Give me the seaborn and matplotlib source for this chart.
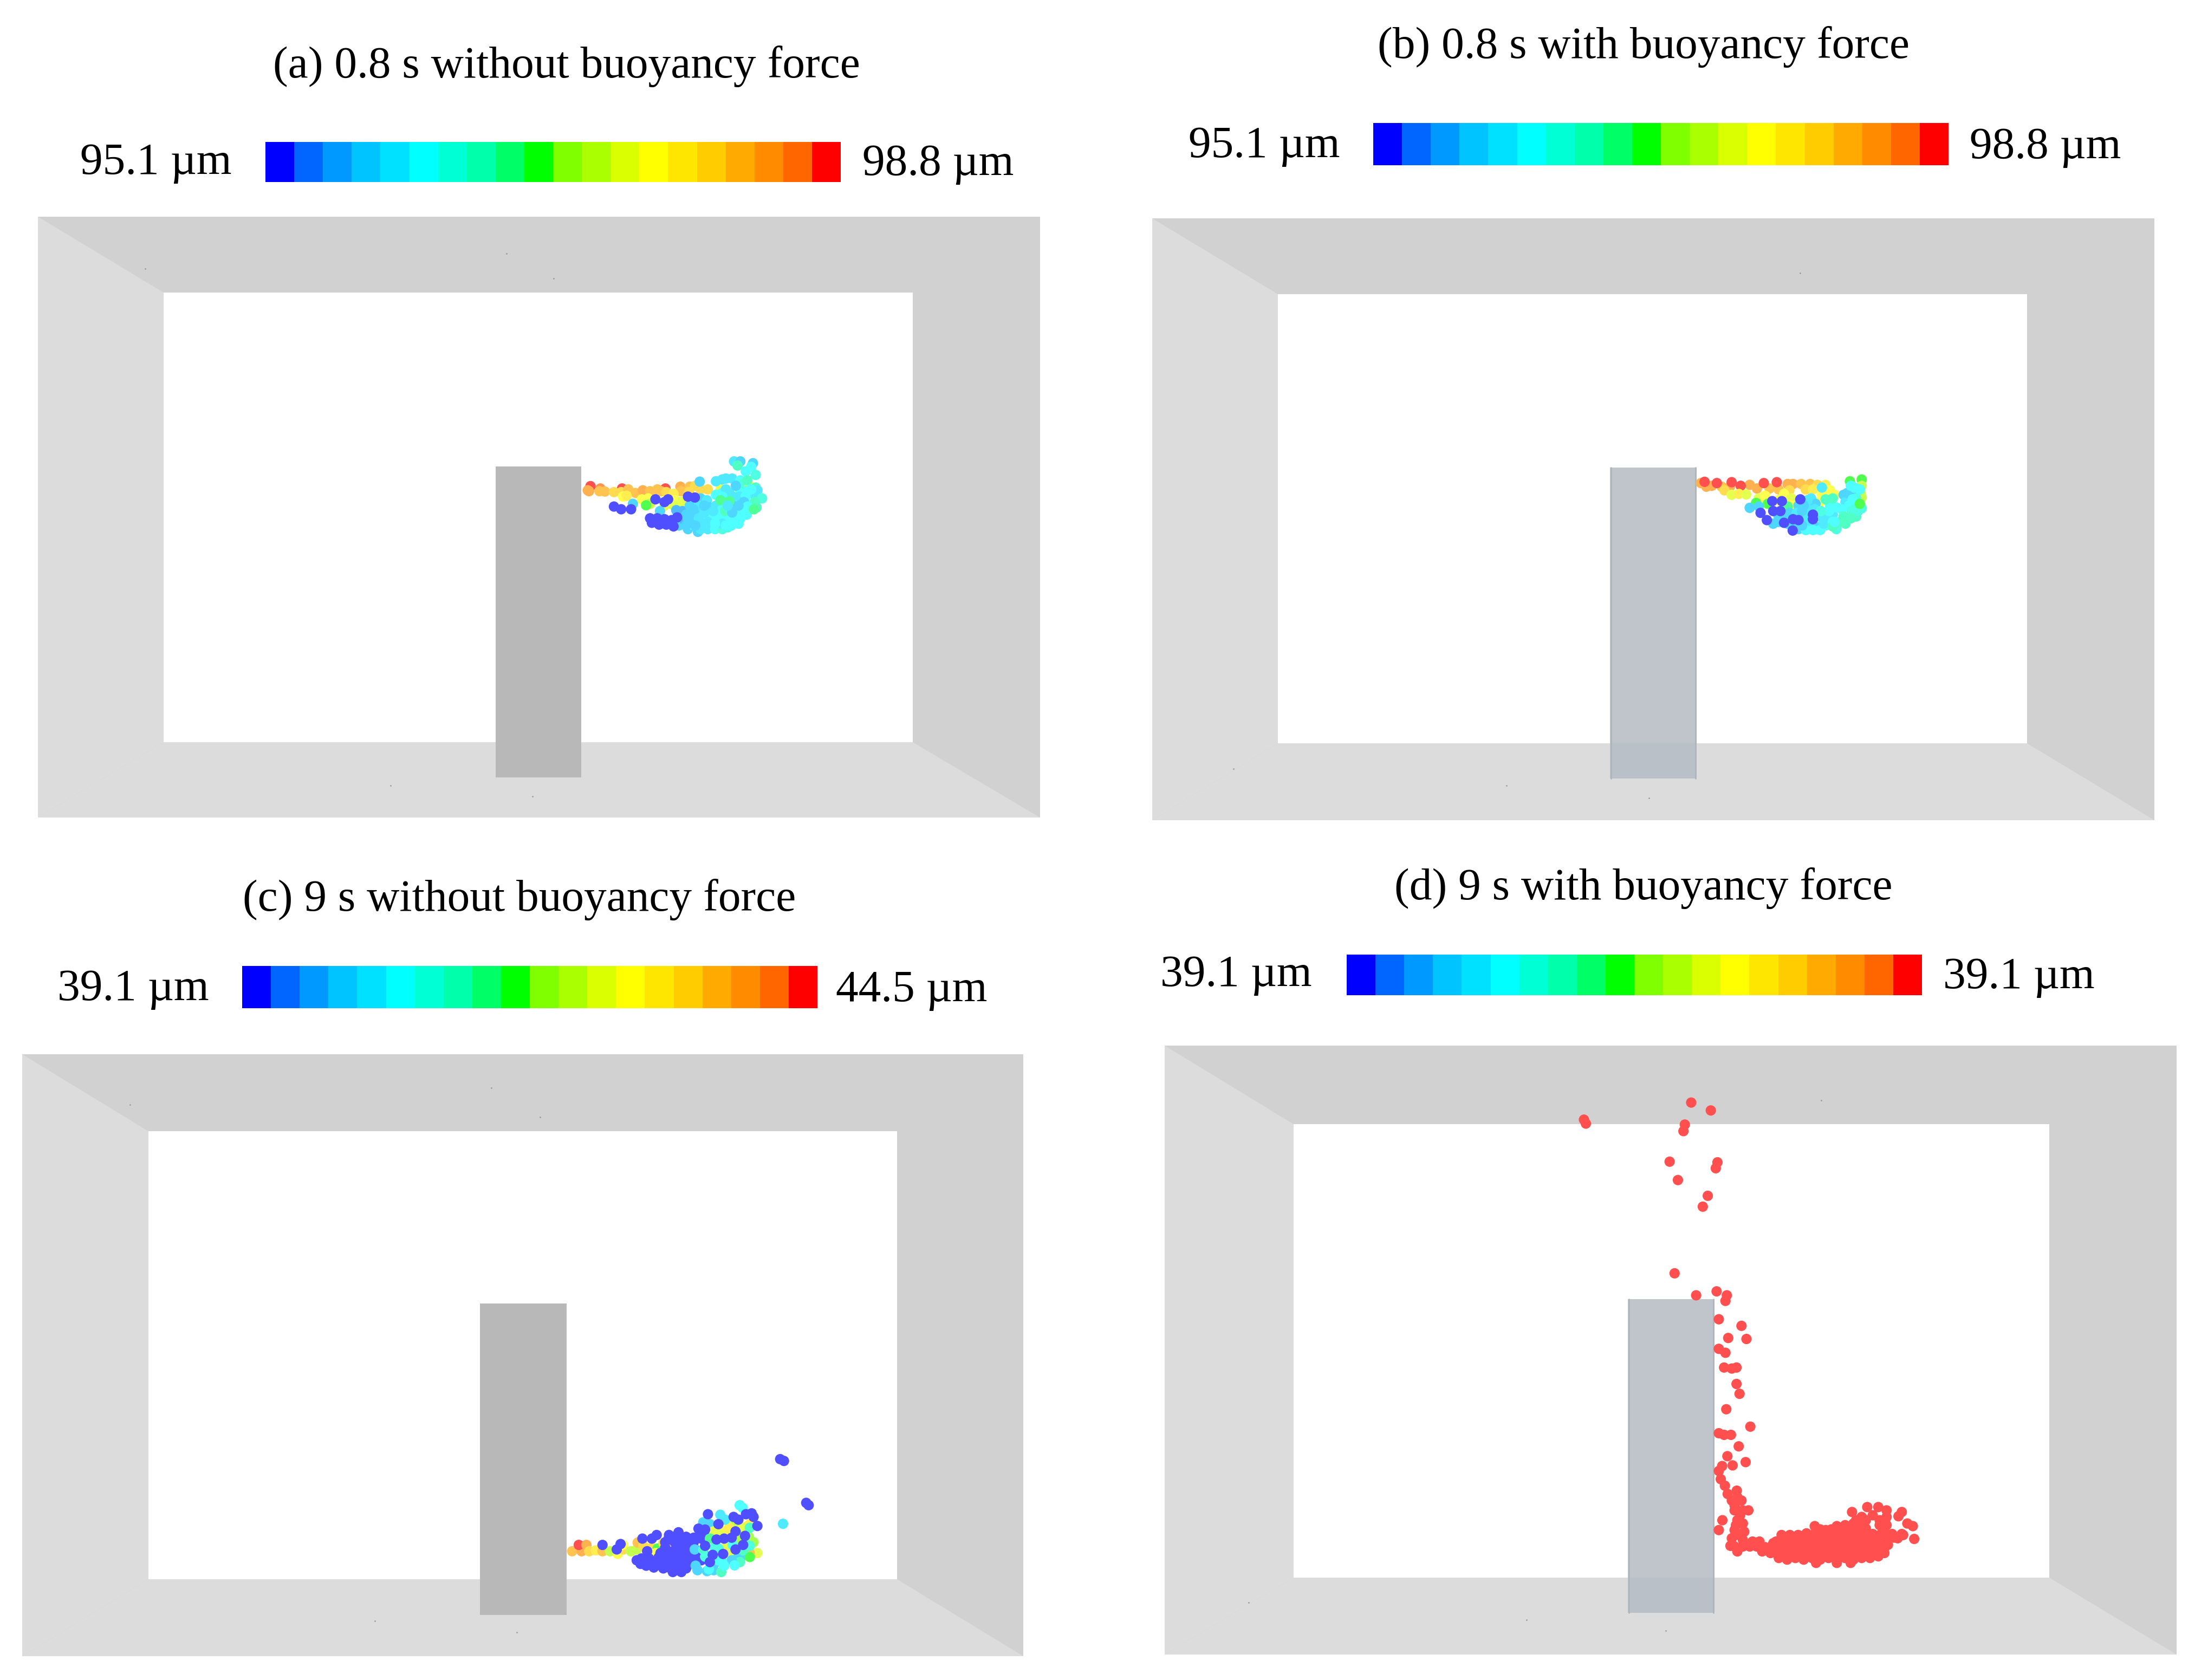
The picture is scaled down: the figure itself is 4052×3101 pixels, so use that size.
# Particle dispersion around a column, with and without buoyancy force
import pandas as pd
import seaborn as sns
import matplotlib.pyplot as plt

sns.set_theme(style="white")
plt.rcParams['font.family'] = ['Liberation Serif', 'DejaVu Sans']

# colour bar cells, low to high
bar_colors = ['#0000ff', '#0066ff', '#0099ff', '#00c4ff', '#00e1ff', '#00ffff', '#00ffd5', '#00ffaa',
              '#00ff66', '#00ff00', '#80ff00', '#aaff00', '#d9ff00', '#ffff00', '#ffe600', '#ffcc00',
              '#ffaa00', '#ff8c00', '#ff6600', '#ff0000']
bar_levels = list(range(20))

titles = ['(a) 0.8 s without buoyancy force', '(b) 0.8 s with buoyancy force',
          '(c) 9 s without buoyancy force', '(d) 9 s with buoyancy force']
low_labels = ['95.1 µm', '95.1 µm', '39.1 µm', '39.1 µm']
high_labels = ['98.8 µm', '98.8 µm', '44.5 µm', '39.1 µm']

particles_a = [
    (270, 292, 19), (325, 305, 18), (445, 305, 19), (685, 305, 19), (768, 295, 17), (255, 315, 17), (262, 320, 17),
    (320, 320, 16), (350, 322, 16), (400, 325, 15), (440, 325, 15), (480, 310, 16), (520, 330, 16), (560, 315, 17),
    (600, 320, 16), (640, 310, 16), (660, 320, 16), (690, 325, 15), (770, 320, 16), (820, 295, 16), (850, 290, 15),
    (880, 310, 15), (920, 310, 15), (815, 325, 15), (450, 350, 13), (470, 345, 14), (730, 335, 14), (555, 365, 13),
    (590, 360, 13), (600, 390, 11), (740, 370, 13), (770, 380, 12), (725, 395, 12), (680, 400, 12), (990, 310, 12),
    (1070, 325, 13), (1150, 290, 12), (578, 398, 9), (505, 390, 3), (655, 430, 3), (875, 267, 3), (745, 425, 2),
    (780, 430, 2), (760, 510, 3), (810, 530, 3), (790, 480, 2), (810, 470, 3), (850, 440, 3), (865, 545, 3),
    (820, 400, 3), (880, 360, 3), (915, 370, 4), (870, 400, 4), (930, 410, 3), (965, 400, 4), (890, 500, 4),
    (880, 530, 4), (920, 530, 4), (960, 530, 5), (1000, 530, 6), (1030, 520, 6), (830, 505, 5), (925, 450, 5),
    (975, 450, 5), (1010, 470, 5), (1060, 490, 5), (1100, 470, 5), (1135, 450, 5), (1000, 500, 4), (1050, 510, 5),
    (800, 450, 3), (840, 480, 3), (870, 470, 4), (840, 420, 3), (900, 440, 4), (950, 490, 5), (1000, 420, 5),
    (950, 430, 4), (900, 400, 3), (1040, 440, 5), (1070, 450, 5), (1060, 400, 3), (1130, 380, 5), (1060, 350, 4),
    (1040, 330, 4), (1000, 330, 5), (1130, 320, 5), (1100, 320, 5), (920, 490, 4), (850, 510, 3), (800, 510, 3),
    (960, 500, 5), (1090, 500, 5), (1020, 510, 5), (1180, 340, 4),
    (1065, 155, 4), (1100, 155, 3), (1085, 178, 7), (1170, 165, 3), (1160, 185, 5), (1130, 210, 5), (1185, 230, 6),
    (965, 265, 4), (1000, 255, 4), (1020, 250, 4), (1055, 250, 4), (1100, 260, 5), (1095, 285, 6), (1138, 260, 7),
    (1020, 310, 4), (1075, 290, 3), (1185, 300, 7), (1195, 315, 4), (1160, 310, 5), (965, 340, 5), (1000, 350, 5),
    (1095, 350, 4), (1130, 345, 5), (1220, 360, 6), (1180, 380, 7), (1040, 375, 8), (990, 370, 8), (1120, 380, 3),
    (1140, 405, 5), (1095, 430, 5), (1190, 410, 7), (1175, 420, 8), (1015, 430, 7), (1055, 438, 3), (1030, 400, 4),
    (1090, 400, 3), (400, 405, 0), (440, 420, 0), (495, 420, 0), (630, 365, 0), (680, 380, 0), (700, 365, 0),
    (810, 350, 0), (848, 355, 0), (600, 470, 0), (640, 470, 0), (680, 475, 0), (720, 480, 0), (610, 495, 0),
    (650, 505, 0), (690, 505, 0), (730, 515, 0), (750, 465, 0),
]
particles_b = [
    (270, 125, 17), (300, 145, 17), (330, 140, 17), (385, 145, 16), (430, 145, 17), (540, 135, 17), (580, 155, 17),
    (650, 155, 16), (700, 160, 16), (750, 130, 17), (780, 130, 17), (825, 130, 16), (875, 130, 16), (915, 135, 15),
    (760, 165, 15), (850, 160, 15), (890, 160, 14), (960, 135, 14), (290, 118, 19), (358, 125, 19), (440, 120, 19),
    (490, 140, 19), (618, 125, 19), (690, 120, 19), (400, 165, 15), (440, 190, 12), (480, 185, 14), (520, 188, 12),
    (590, 210, 12), (625, 195, 13), (730, 185, 13), (770, 210, 12), (700, 220, 13), (985, 165, 13), (940, 190, 13),
    (1010, 190, 13), (770, 250, 13), (930, 230, 13), (575, 235, 9), (640, 240, 9), (750, 255, 8), (1095, 115, 9),
    (1160, 105, 9), (1160, 140, 11), (1155, 180, 11), (1160, 205, 11), (540, 262, 3), (590, 255, 3), (700, 340, 3),
    (670, 350, 3), (810, 250, 3), (760, 290, 3), (940, 150, 4), (750, 350, 3), (810, 380, 3), (750, 300, 3),
    (800, 290, 4), (860, 260, 4), (880, 210, 4), (905, 240, 3), (850, 310, 4), (870, 360, 4), (920, 370, 3),
    (920, 310, 4), (1060, 190, 3), (1120, 185, 3), (1000, 300, 4), (985, 250, 5), (1070, 230, 4), (960, 360, 5),
    (850, 385, 5), (930, 385, 5), (830, 340, 4), (790, 350, 3), (830, 280, 3), (860, 220, 4), (900, 270, 4),
    (960, 320, 4), (1020, 260, 5), (1050, 270, 5), (1090, 250, 5), (1130, 240, 6), (1080, 180, 3), (1130, 210, 6),
    (1130, 310, 7), (1070, 350, 7), (1020, 380, 6), (880, 330, 4), (950, 350, 4), (980, 280, 5), (830, 360, 3),
    (890, 385, 5), (840, 250, 3), (780, 360, 3), (700, 310, 3), (1100, 140, 5), (1000, 340, 5), (1160, 265, 6),
    (1000, 210, 7), (960, 215, 7), (935, 280, 6), (1110, 215, 5), (1105, 280, 6),
    (1060, 310, 7), (1100, 320, 7), (1120, 150, 5), (1140, 280, 6), (1040, 340, 7), (1000, 365, 7), (1010, 340, 5),
    (1150, 160, 5), (1150, 240, 9), (665, 225, 0), (718, 225, 0), (820, 215, 0), (600, 290, 0), (670, 280, 0),
    (710, 280, 0), (635, 330, 0), (730, 345, 0), (780, 325, 0), (810, 330, 0), (890, 300, 0), (890, 325, 0),
    (778, 388, 0),
]
particles_c = [
    (160, 640, 16), (210, 640, 17), (195, 605, 19), (235, 605, 17), (250, 640, 15), (285, 635, 14), (320, 640, 16),
    (360, 640, 11), (400, 655, 13), (430, 630, 15), (428, 605, 13), (470, 640, 11), (500, 630, 11), (505, 592, 16),
    (535, 610, 15), (580, 620, 15), (610, 625, 9), (600, 650, 13), (665, 585, 17), (640, 595, 15), (320, 605, 0),
    (395, 630, 0), (415, 600, 0), (530, 570, 0), (580, 570, 0), (605, 550, 0), (555, 640, 0), (670, 550, 0),
    (720, 535, 0), (760, 560, 0), (800, 565, 0), (650, 620, 0), (700, 590, 0), (750, 600, 0), (800, 590, 0),
    (840, 570, 0), (640, 650, 0), (690, 640, 0), (740, 640, 0), (790, 650, 0), (830, 670, 0), (500, 690, 0),
    (540, 700, 0), (590, 700, 0), (640, 700, 0), (690, 690, 0), (740, 700, 0), (790, 680, 0), (840, 690, 0),
    (550, 720, 0), (620, 715, 0), (670, 730, 0), (710, 745, 0), (760, 735, 0), (665, 575, 0), (715, 565, 0),
    (775, 575, 0), (625, 650, 0), (665, 660, 0), (715, 665, 0), (765, 665, 0), (815, 635, 0), (845, 640, 0),
    (525, 680, 0), (565, 680, 0), (615, 675, 0), (665, 675, 0), (715, 720, 0), (765, 700, 0), (810, 700, 0),
    (590, 730, 0), (640, 735, 0), (690, 755, 0), (735, 755, 0), (520, 710, 0), (650, 590, 0), (725, 620, 0),
    (775, 620, 0), (830, 550, 0), (870, 545, 0), (850, 650, 0), (875, 680, 0), (920, 640, 0),
    (805, 630, 3), (810, 720, 3), (820, 745, 3), (870, 750, 3), (905, 745, 3), (912, 705, 3),
    (850, 480, 3), (885, 490, 3), (945, 755, 7), (880, 740, 5), (1040, 530, 10), (1090, 560, 10), (1000, 650, 12),
    (1075, 600, 5), (990, 480, 11), (960, 530, 14), (910, 620, 6), (850, 630, 7), (860, 670, 6), (930, 690, 5),
    (1050, 670, 3), (1030, 680, 3), (1000, 470, 11), (1025, 500, 11), (985, 510, 14),
    (1060, 505, 12), (1095, 490, 14), (905, 530, 12), (935, 540, 12), (975, 610, 12), (1115, 590, 10),
    (1135, 650, 12), (1095, 650, 16), (1095, 672, 9), (1045, 580, 10), (885, 570, 8), (940, 438, 4), (965, 465, 4),
    (1042, 385, 5), (1058, 400, 5), (1095, 510, 7), (1095, 610, 6), (1005, 605, 5), (1060, 635, 7), (930, 625, 6),
    (1043, 700, 7), (1000, 690, 3), (950, 700, 5), (960, 720, 5), (1015, 718, 5), (875, 435, 0), (825, 515, 0),
    (860, 520, 0), (930, 490, 0), (1010, 450, 0), (1035, 465, 0), (1075, 435, 0), (1105, 430, 0), (1115, 450, 0),
    (1135, 500, 0), (1070, 555, 0), (920, 575, 0), (960, 570, 0), (1000, 565, 0), (1020, 530, 0), (860, 610, 0),
    (1020, 630, 0), (900, 660, 0), (955, 655, 0), (1060, 605, 0), (885, 700, 0), (1255, 130, 0), (1275, 140, 0),
    (1392, 372, 0), (1405, 385, 0), (1270, 488, 4),
]
# every particle in (d) sits in the one top cell, so x and y are enough
particles_d = [
    (145, 110), (152, 122), (533, 58), (604, 82), (510, 125), (505, 145), (455, 238), (628, 240), (622, 258),
    (485, 294), (593, 342), (575, 375), (473, 578), (551, 645), (625, 633), (662, 645), (657, 662), (633, 718),
    (715, 738), (667, 775), (733, 778), (633, 808), (657, 820), (652, 865), (680, 868), (697, 865), (697, 915),
    (708, 945), (660, 992), (747, 1045), (633, 1065), (652, 1070), (677, 1070), (705, 1105), (664, 1135),
    (730, 1153), (645, 1165), (683, 1163), (633, 1180), (640, 1205), (655, 1225), (665, 1250), (698, 1240),
    (680, 1270), (715, 1270), (690, 1300), (740, 1300), (720, 1300), (646, 1330), (633, 1360), (700, 1330),
    (720, 1340), (725, 1365), (690, 1360), (680, 1385), (720, 1390), (675, 1408), (700, 1425), (755, 1395),
    (780, 1395), (790, 1425), (820, 1430), (700, 1260), (690, 1285), (710, 1315), (695, 1345), (705, 1375),
    (720, 1410), (690, 1410), (745, 1410), (770, 1410), (800, 1412), (830, 1400),
    (850, 1445), (880, 1450), (910, 1445), (940, 1450), (970, 1445), (1000, 1450), (1030, 1445), (1060, 1450),
    (1090, 1445), (1120, 1450), (1150, 1445), (1180, 1445), (1210, 1440), (985, 1460), (1060, 1460), (1110, 1460),
    (845, 1432), (875, 1432), (905, 1432), (935, 1432), (965, 1432), (995, 1432), (1025, 1432), (1055, 1432),
    (1085, 1432), (1115, 1432), (1145, 1432), (1175, 1432), (1205, 1432), (1232, 1430),
    (830, 1420), (860, 1420), (890, 1420), (920, 1420), (950, 1420), (980, 1420), (1010, 1420), (1040, 1420),
    (1070, 1420), (1100, 1420), (1130, 1420), (1160, 1420), (1190, 1420), (1230, 1420),
    (855, 1408), (885, 1408), (915, 1408), (945, 1408), (975, 1408), (1005, 1408), (1035, 1408), (1065, 1408),
    (1095, 1408), (1125, 1408), (1155, 1408), (1185, 1408), (1215, 1408), (1245, 1405),
    (840, 1395), (870, 1395), (900, 1395), (930, 1395), (960, 1395), (990, 1395), (1020, 1395), (1050, 1395),
    (1080, 1395), (1110, 1395), (1140, 1395), (1170, 1395), (1200, 1395), (1240, 1395), (1280, 1385),
    (875, 1383), (905, 1383), (935, 1383), (965, 1383), (995, 1383), (1025, 1383), (1055, 1383), (1085, 1383),
    (1115, 1383), (1145, 1383), (1175, 1383), (1205, 1383), (1235, 1383), (1265, 1383),
    (860, 1375), (890, 1375), (920, 1375), (950, 1370), (980, 1370), (1010, 1370), (1040, 1370), (1070, 1370),
    (1100, 1370), (1130, 1370), (1160, 1370), (1190, 1372), (1220, 1372), (1260, 1372), (1295, 1372),
    (1000, 1358), (1040, 1358), (1075, 1358), (1105, 1358), (1135, 1358), (1165, 1355), (1230, 1358),
    (980, 1348), (1020, 1360), (1060, 1348), (1090, 1345), (1120, 1340), (1150, 1340), (1240, 1345), (1215, 1345),
    (1130, 1330), (1165, 1330), (1215, 1330), (1235, 1332),
    (1115, 1305), (1150, 1320), (1190, 1315), (1240, 1320), (1170, 1290), (1210, 1290), (1240, 1300),
    (1295, 1305), (1283, 1318), (1315, 1340), (1335, 1348), (1340, 1387), (1300, 1375),
]
specks_x = [268, 935, 1022, 721, 983, 3323, 2277, 2781, 3044, 240, 907, 997, 692, 954, 3362, 2305, 2818, 3075]
specks_y = [496, 468, 514, 1450, 1470, 504, 1419, 1450, 1473, 2039, 2008, 2062, 2992, 3013, 2031, 2958, 2990, 3010]

# crop origin and scale that the particle lists were read with
crops = [(1000, 800, 3, 3), (3050, 850, 3, 3), (1000, 2650, 2.851, 3), (2850, 2000, 1.96, 1.65)]

# room geometry in pixels: outer box, back wall, column, colour bar, text anchors
outer = [(70, 400, 1920, 1509), (2127, 403, 3977, 1514), (41, 1946, 1889, 3057), (2150, 1930, 4018, 3054)]
inner = [(302, 540, 1685, 1370), (2359, 543, 3742, 1372), (274, 2088, 1656, 2915), (2388, 2075, 3783, 2912)]
columns = [(915, 861, 1073, 1435), (2972, 863, 3132, 1437), (886, 2406, 1046, 2981), (3005, 2398, 3165, 2977)]
bars = [(490, 262, 1552, 336), (2535, 227, 3597, 305), (447, 1783, 1509, 1861), (2486, 1762, 3548, 1837)]
title_pos = [(1046, 122), (3034, 86), (959, 1660), (3034, 1639)]
low_pos = [(148, 301), (2194, 270), (106, 1826), (2142, 1800)]
high_pos = [(1592, 303), (3636, 272), (1543, 1828), (3587, 1804)]
column_fill = ['#b8b8b8', '#bfc5cb', '#b8b8b8', '#bfc5cb']

fig = plt.figure(figsize=(40.52, 31.01), dpi=100)
ax = fig.add_axes([0, 0, 1, 1])

all_points = [particles_a, particles_b, particles_c, [(x, y, 19) for x, y in particles_d]]
frames = []
for i in range(4):
    ox, oy, sx, sy = crops[i]
    df = pd.DataFrame(all_points[i], columns=['x', 'y', 'level'])
    df['x'] = ox + df['x'] / sx
    df['y'] = oy + df['y'] / sy
    frames.append(df)

for i in range(4):
    x0, y0, x1, y1 = outer[i]
    a0, b0, a1, b1 = inner[i]
    # walls, the lighter pair is left and floor
    ax.fill([x0, x1, x1, x0], [y0, y0, y1, y1], color='#d1d1d1', lw=0)
    ax.fill([x0, a0, a0, x0], [y0, b0, b1, y1], color='#dcdcdc', lw=0)
    ax.fill([x0, a0, a1, x1], [y1, b1, b1, y1], color='#dcdcdc', lw=0)
    ax.fill([a0, a1, a1, a0], [b0, b0, b1, b1], color='white', lw=0)

    c0, d0, c1, d1 = columns[i]
    ax.fill([c0, c1, c1, c0], [d0, d0, d1, d1], color=column_fill[i], lw=0, zorder=2)
    if i % 2 == 1:
        ax.fill([c0, c1, c1, c0], [b1, b1, d1, d1], color='#b9c0c7', lw=0, zorder=2)
        ax.plot([c0 + 2, c0 + 2], [d0, d1], color='#b0b5bc', lw=2, zorder=2)
        ax.plot([c1 - 2, c1 - 2], [d0, d1], color='#b0b5bc', lw=2, zorder=2)

    ax.text(*title_pos[i], titles[i], fontsize=60, ha='center', va='center', color='black')
    ax.text(*low_pos[i], low_labels[i], fontsize=60, ha='left', va='center', color='black')
    ax.text(*high_pos[i], high_labels[i], fontsize=60, ha='left', va='center', color='black')

    # colour bar as a one row heatmap
    bx0, by0, bx1, by1 = bars[i]
    cax = fig.add_axes([bx0 / 4052, 1 - by1 / 3101, (bx1 - bx0) / 4052, (by1 - by0) / 3101])
    sns.heatmap([bar_levels], cmap=bar_colors, cbar=False, xticklabels=False, yticklabels=False, ax=cax)


def lighten(c):
    # particles are shown faded towards white
    rgb = plt.matplotlib.colors.to_rgb(c)
    return tuple(1 - 0.69 * (1 - v) for v in rgb)


particle_palette = {lev: lighten(bar_colors[lev]) for lev in bar_levels}
df_all = pd.concat(frames, ignore_index=True)
sns.scatterplot(data=df_all, x='x', y='y', hue='level', palette=particle_palette, s=190, linewidth=0,
                legend=False, zorder=3, ax=ax)
ax.scatter(specks_x, specks_y, s=4, color='#9a9a9a', linewidths=0, zorder=1)

ax.set_xlim(0, 4052)
ax.set_ylim(3101, 0)
ax.axis('off')

fig.savefig('out.png', dpi=100)
